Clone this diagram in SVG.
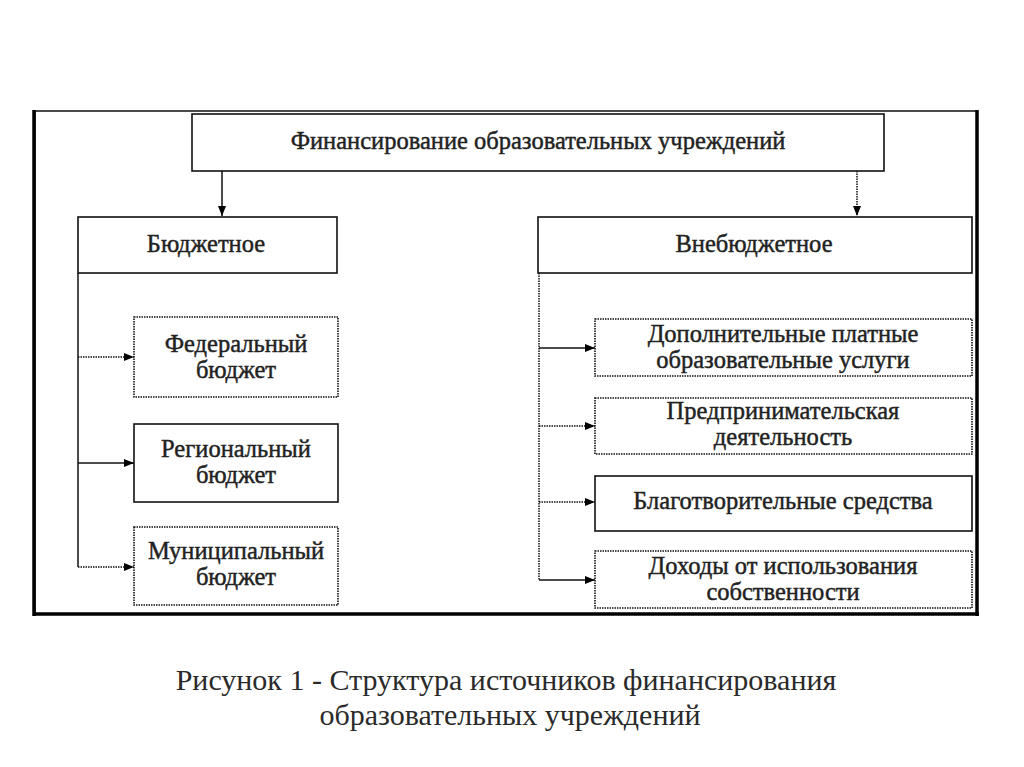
<svg xmlns="http://www.w3.org/2000/svg" width="1024" height="767" viewBox="0 0 1024 767">
<defs>
<marker id="ah" viewBox="0 0 10 10" refX="10" refY="5" markerWidth="10" markerHeight="10" markerUnits="userSpaceOnUse" orient="auto">
<path d="M0,1 L10,5 L0,9 Z" fill="#000"/>
</marker>
</defs>
<style>
.box{fill:#fff;stroke:#111;stroke-width:1.6}
.dbox{fill:#fff;stroke:#111;stroke-width:1.6;stroke-dasharray:1.5 1}
.t{font-family:"Liberation Serif","Times New Roman",serif;font-size:24.5px;fill:#222;stroke:#222;stroke-width:0.45;text-anchor:middle}
.cap{font-family:"Liberation Serif","Times New Roman",serif;font-size:30px;fill:#2a2a2a;text-anchor:middle}
.c{fill:none;stroke:#111;stroke-width:1.5}
.cd{fill:none;stroke:#111;stroke-width:1.5;stroke-dasharray:1.5 1}
</style>
<rect width="1024" height="767" fill="#fff"/>
<g id="frame">
<rect x="35" y="111" width="942" height="503" fill="none" stroke="#111" stroke-width="1.5"/>
<line x1="34" y1="110" x2="34" y2="616" stroke="#000" stroke-width="3.5"/>
<line x1="33" y1="614" x2="979" y2="614" stroke="#000" stroke-width="3.5"/>
<line x1="977" y1="110" x2="977" y2="616" stroke="#000" stroke-width="3.5"/>
</g>
<g id="connectors">
<line class="c" x1="222" y1="171" x2="222" y2="216" marker-end="url(#ah)"/>
<line class="cd" x1="857" y1="171" x2="857" y2="216" marker-end="url(#ah)"/>
<line class="c" x1="78" y1="273" x2="78" y2="567"/>
<line class="cd" x1="78" y1="357" x2="134" y2="357" marker-end="url(#ah)"/>
<line class="c" x1="78" y1="463" x2="134" y2="463" marker-end="url(#ah)"/>
<line class="cd" x1="78" y1="567" x2="134" y2="567" marker-end="url(#ah)"/>
<line class="cd" x1="539" y1="273" x2="539" y2="580"/>
<line class="c" x1="539" y1="348" x2="595" y2="348" marker-end="url(#ah)"/>
<line class="cd" x1="539" y1="426" x2="595" y2="426" marker-end="url(#ah)"/>
<line class="cd" x1="539" y1="502" x2="595" y2="502" marker-end="url(#ah)"/>
<line class="c" x1="539" y1="580" x2="595" y2="580" marker-end="url(#ah)"/>
</g>
<g id="root">
<rect class="box" x="192" y="114" width="692" height="57"/>
<text class="t" x="538" y="149">Финансирование образовательных учреждений</text>
</g>
<g id="budget">
<rect class="box" x="78" y="217" width="259" height="56"/>
<text class="t" x="206" y="252">Бюджетное</text>
</g>
<g id="offbudget">
<rect class="box" x="538" y="217" width="434" height="56"/>
<text class="t" x="754" y="252">Внебюджетное</text>
</g>
<g id="federal">
<rect class="dbox" x="134" y="317" width="204" height="80"/>
<text class="t" x="236" y="352">Федеральный</text>
<text class="t" x="236" y="378">бюджет</text>
</g>
<g id="regional">
<rect class="box" x="134" y="424" width="204" height="78"/>
<text class="t" x="236" y="457">Региональный</text>
<text class="t" x="236" y="483">бюджет</text>
</g>
<g id="municipal">
<rect class="dbox" x="134" y="527" width="204" height="78"/>
<text class="t" x="236" y="559">Муниципальный</text>
<text class="t" x="236" y="585">бюджет</text>
</g>
<g id="paid">
<rect class="dbox" x="595" y="319" width="377" height="57"/>
<text class="t" x="783" y="342">Дополнительные платные</text>
<text class="t" x="783" y="368">образовательные услуги</text>
</g>
<g id="business">
<rect class="dbox" x="595" y="398" width="377" height="56"/>
<text class="t" x="783" y="419">Предпринимательская</text>
<text class="t" x="783" y="445">деятельность</text>
</g>
<g id="charity">
<rect class="box" x="595" y="476" width="377" height="55"/>
<text class="t" x="783" y="509">Благотворительные средства</text>
</g>
<g id="property">
<rect class="dbox" x="595" y="551" width="377" height="57"/>
<text class="t" x="783" y="574">Доходы от использования</text>
<text class="t" x="783" y="600">собственности</text>
</g>
<g id="caption">
<text class="cap" x="506" y="690">Рисунок 1 - Структура источников финансирования</text>
<text class="cap" x="510" y="725">образовательных учреждений</text>
</g>
</svg>
